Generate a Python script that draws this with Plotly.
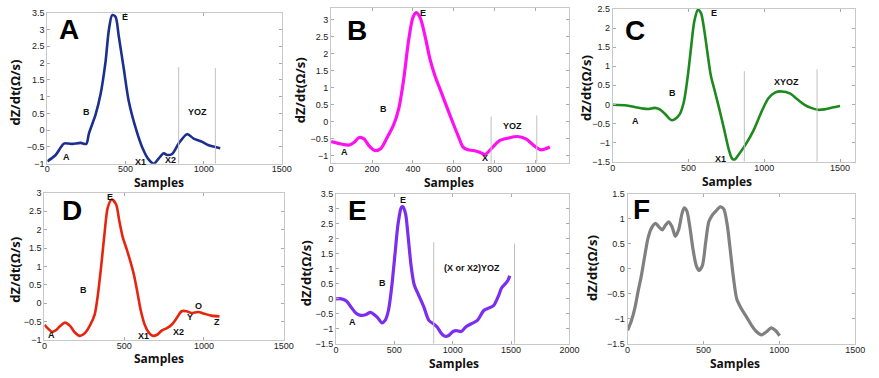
import plotly.graph_objects as go

W, H = 879, 378

# ---------------- data ----------------
A_samples = [0, 53, 106, 135, 160, 213, 249, 266, 309, 340, 372, 394, 415, 436, 457, 489, 521, 564, 606, 649, 681, 713, 745, 766, 798, 840, 894, 936, 990, 1032, 1075, 1106]
A_dzdt = [-0.93, -0.74, -0.40, -0.40, -0.41, -0.38, -0.41, -0.10, 0.47, 1.06, 2.03, 3.00, 3.43, 3.38, 2.80, 1.83, 0.86, 0.08, -0.50, -0.88, -1.00, -0.84, -0.69, -0.74, -0.71, -0.40, -0.12, -0.25, -0.35, -0.45, -0.50, -0.54]

B_samples = [0, 48, 89, 113, 137, 161, 185, 213, 242, 274, 306, 331, 355, 379, 400, 416, 435, 460, 484, 508, 532, 556, 589, 621, 645, 669, 694, 726, 752, 790, 823, 863, 911, 952, 992, 1024, 1048, 1069]
B_dzdt = [-0.58, -0.65, -0.68, -0.60, -0.46, -0.50, -0.70, -0.84, -0.79, -0.46, -0.08, 0.40, 1.26, 2.40, 3.07, 3.21, 3.07, 2.50, 1.83, 1.35, 0.97, 0.59, 0.07, -0.41, -0.74, -0.82, -0.84, -0.89, -0.96, -0.74, -0.55, -0.48, -0.43, -0.50, -0.70, -0.82, -0.79, -0.74]

C_samples = [0, 93, 158, 202, 234, 278, 315, 354, 386, 408, 441, 469, 495, 517, 538, 562, 582, 604, 625, 647, 669, 701, 734, 766, 788, 805, 831, 875, 929, 983, 1027, 1070, 1114, 1168, 1222, 1266, 1309, 1353, 1396, 1450, 1500]
C_dzdt = [-0.01, -0.03, -0.08, -0.11, -0.12, -0.09, -0.14, -0.29, -0.41, -0.39, -0.26, 0.07, 0.75, 1.51, 2.18, 2.48, 2.39, 1.93, 1.34, 0.75, 0.41, -0.09, -0.64, -1.19, -1.42, -1.44, -1.31, -1.06, -0.68, -0.18, 0.16, 0.31, 0.34, 0.29, 0.12, -0.01, -0.09, -0.14, -0.13, -0.08, -0.04]

D_samples = [0, 27, 47, 68, 99, 130, 161, 191, 222, 253, 284, 315, 335, 356, 377, 397, 422, 449, 469, 490, 517, 541, 562, 582, 603, 628, 654, 681, 706, 737, 768, 799, 830, 860, 891, 922, 963, 1004, 1045, 1097]
D_dzdt = [-0.59, -0.71, -0.78, -0.75, -0.62, -0.53, -0.62, -0.80, -0.89, -0.82, -0.62, -0.31, 0.22, 1.01, 1.90, 2.60, 2.82, 2.69, 2.25, 1.81, 1.45, 1.10, 0.75, 0.31, -0.18, -0.58, -0.80, -0.89, -0.86, -0.74, -0.68, -0.58, -0.40, -0.22, -0.22, -0.27, -0.24, -0.29, -0.34, -0.36]

E_samples = [0, 47, 89, 130, 172, 213, 260, 296, 352, 393, 421, 449, 476, 504, 532, 560, 573, 596, 615, 643, 670, 712, 753, 795, 837, 864, 906, 934, 961, 1003, 1030, 1072, 1114, 1155, 1211, 1266, 1307, 1349, 1391, 1418, 1454, 1474, 1488]
E_dzdt = [0.00, 0.00, -0.07, -0.28, -0.48, -0.55, -0.52, -0.45, -0.61, -0.80, -0.72, -0.39, 0.36, 1.44, 2.51, 3.05, 3.07, 2.83, 2.19, 1.11, 0.47, 0.09, -0.28, -0.72, -0.84, -0.93, -1.17, -1.25, -1.23, -1.09, -1.06, -1.09, -0.93, -0.84, -0.72, -0.39, -0.31, -0.23, 0.09, 0.36, 0.52, 0.63, 0.77]

F_samples = [0, 26, 48, 69, 91, 113, 134, 156, 184, 206, 228, 249, 271, 293, 315, 336, 358, 373, 390, 410, 431, 453, 470, 492, 514, 535, 557, 583, 611, 633, 655, 676, 698, 720, 752, 785, 817, 850, 882, 915, 947, 973, 1002]
F_dzdt = [-1.23, -1.03, -0.78, -0.45, -0.13, 0.26, 0.61, 0.81, 0.91, 0.84, 0.78, 0.87, 0.94, 0.84, 0.65, 0.78, 1.10, 1.22, 1.16, 0.84, 0.39, 0.06, -0.03, 0.06, 0.52, 0.94, 1.07, 1.16, 1.24, 1.20, 0.91, 0.39, -0.19, -0.61, -0.81, -0.97, -1.13, -1.26, -1.32, -1.26, -1.18, -1.23, -1.34]

# vertical marker lines: sample position and top value
A_vlines = [840, 1075]
A_vline_top = [1.88, 1.85]
B_vlines = [782, 1005]
B_vline_top = [0.16, 0.19]
C_vlines = [868, 1348]
C_vline_top = [0.87, 0.92]
E_vlines = [837, 1529]
E_vline_top = [1.89, 1.84]

# point labels: text, sample, value
A_labels = [("A", 123, -0.79), ("B", 249, 0.54), ("E", 496, 3.38), ("X1", 596, -0.95), ("X2", 787, -0.90), ("YOZ", 958, 0.54)]
B_labels = [("A", 65, -0.89), ("B", 258, 0.38), ("E", 448, 3.19), ("X", 752, -1.06), ("YOZ", 887, -0.12)]
C_labels = [("A", 148, -0.43), ("B", 397, 0.30), ("E", 669, 2.39), ("X1", 712, -1.42), ("XYOZ", 1146, 0.58)]
D_labels = [("A", 47, -0.87), ("B", 243, 0.37), ("E", 414, 2.89), ("X1", 620, -0.90), ("X2", 840, -0.78), ("Y", 912, -0.38), ("O", 963, -0.09), ("Z", 1080, -0.51)]
E_labels = [("A", 139, -0.77), ("B", 399, 0.52), ("E", 573, 3.30), ("(X or X2)YOZ", 1169, 1.03)]
F_labels = []

panel_letters = ["A", "B", "C", "D", "E", "F"]
x_ranges = [[0, 1500], [0, 1165], [0, 1600], [0, 1500], [0, 2000], [0, 1500]]
y_ranges = [[-1, 3.5], [-1.2, 3.35], [-1.5, 2.5], [-1, 3], [-1.5, 3.5], [-1.5, 1.5]]
x_dtick = [500, 200, 500, 500, 500, 500]
letter_pos = [(138, 3.0), (129, 2.7), (148, 1.93), (171, 2.53), (186, 2.96), (91, 1.18)]

# ---------------- layout geometry (pixels) ----------------
boxes = [(45, 283, 8, 163), (333, 575, 3, 162), (619, 865, 4, 161),
         (42, 285, 193, 344), (338, 575, 194, 348), (634, 865, 194, 348)]
ytitle_px = [(12, 90), (301, 88), (591, 85), (12, 272), (307, 275), (598, 270)]
xtitle_px = [(158, 182), (453, 182), (735, 181), (158, 363), (458, 368), (743, 368)]

colors = ["#1c2f8f", "#ff10f0", "#1e8a1e", "#e6250f", "#7b2ef0", "#808080"]
widths = [2.6, 3.2, 2.6, 2.6, 3.2, 3.2]

series = [(A_samples, A_dzdt), (B_samples, B_dzdt), (C_samples, C_dzdt),
          (D_samples, D_dzdt), (E_samples, E_dzdt), (F_samples, F_dzdt)]
vlines = [(A_vlines, A_vline_top), (B_vlines, B_vline_top), (C_vlines, C_vline_top),
          None, (E_vlines, E_vline_top), None]
labels = [A_labels, B_labels, C_labels, D_labels, E_labels, F_labels]

fig = go.Figure()
annotations = []
shapes = []
tickfont = dict(family="Liberation Sans, Arial", size=9, color="#222")

for i in range(6):
    n = "" if i == 0 else str(i + 1)
    xa, ya = "x" + n, "y" + n
    xs, ys = series[i]
    fig.add_trace(go.Scatter(x=xs, y=ys, mode="lines", xaxis=xa, yaxis=ya,
                             line=dict(color=colors[i], width=widths[i], shape="spline", smoothing=0.8),
                             showlegend=False, hoverinfo="skip"))
    l, r, t, b = boxes[i]
    ax_common = dict(showline=True, linecolor="#c8c8c8", linewidth=1, mirror="allticks",
                     ticks="inside", ticklen=3, tickcolor="#aaaaaa", showgrid=False,
                     zeroline=False, tickfont=tickfont)
    fig.layout["xaxis" + n] = dict(domain=[l / W, r / W], range=x_ranges[i], anchor=ya,
                                   dtick=x_dtick[i], tick0=0, ticklabelstandoff=-3, **ax_common)
    fig.layout["yaxis" + n] = dict(domain=[1 - b / H, 1 - t / H], range=y_ranges[i], anchor=xa,
                                   dtick=0.5, tick0=0, **ax_common)
    if vlines[i] is not None:
        for xv, yt in zip(*vlines[i]):
            shapes.append(dict(type="line", xref=xa, yref=ya, x0=xv, x1=xv,
                               y0=y_ranges[i][0], y1=yt, line=dict(color="#c0c0c0", width=1)))
    for txt, lx, ly in labels[i]:
        annotations.append(dict(text="<b>" + txt + "</b>", x=lx, y=ly, xref=xa, yref=ya,
                                xanchor="center", yanchor="middle",
                                showarrow=False, font=dict(family="Liberation Sans, Arial", size=9, color="#111")))
    px, py = letter_pos[i]
    annotations.append(dict(text="<b>" + panel_letters[i] + "</b>", x=px, y=py, xref=xa, yref=ya,
                            xanchor="center", yanchor="middle",
                            showarrow=False, font=dict(family="Liberation Sans, Arial", size=28, color="#000")))
    tx, ty = ytitle_px[i]
    annotations.append(dict(text="<b>dZ/dt(Ω/s)</b>", x=tx / W, y=1 - ty / H, xref="paper", yref="paper",
                            xanchor="center", yanchor="middle",
                            textangle=-90, showarrow=False,
                            font=dict(family="Open Sans", size=13, color="#111")))
    sx, sy = xtitle_px[i]
    annotations.append(dict(text="<b>Samples</b>", x=sx / W, y=1 - sy / H, xref="paper", yref="paper",
                            xanchor="center", yanchor="middle",
                            showarrow=False, font=dict(family="Open Sans", size=12, color="#111")))

fig.update_layout(width=W, height=H, margin=dict(l=0, r=0, t=0, b=0),
                  paper_bgcolor="white", plot_bgcolor="white",
                  annotations=annotations, shapes=shapes)

fig.write_html("out.html", config={"displayModeBar": False},
               post_script="document.body.style.margin='0';")
